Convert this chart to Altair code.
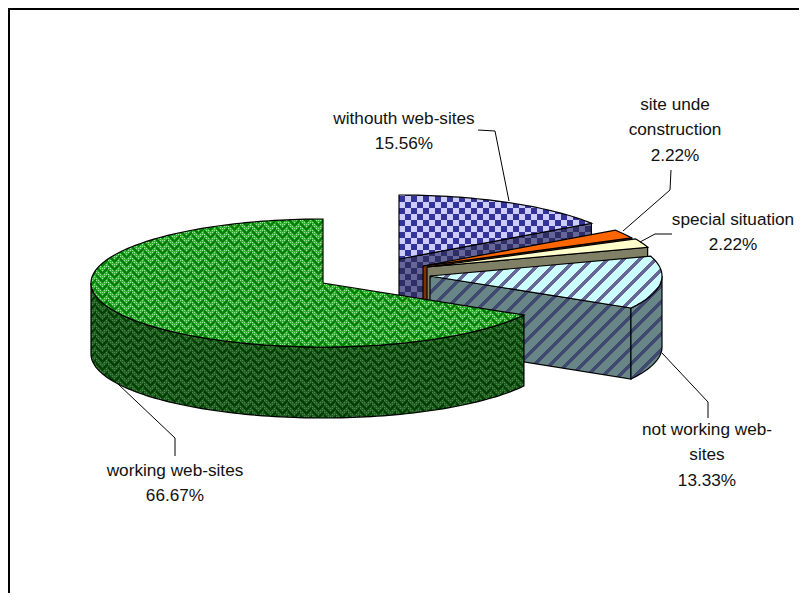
import math
import altair as alt
import pandas as pd

alt.data_transformers.disable_max_rows()

# ---- data ----
labels = ["withouth web-sites", "site unde construction", "special situation",
          "not working web-sites", "working web-sites"]
shares = [15.56, 2.22, 2.22, 13.33, 66.67]
text_lines = [["withouth web-sites", "15.56%"],
              ["site unde", "construction", "2.22%"],
              ["special situation", "2.22%"],
              ["not working web-", "sites", "13.33%"],
              ["working web-sites", "66.67%"]]

# ---- layout ----
W, H = 791, 585
RX, RY, DEPTH = 232, 64, 71
centers = [(399, 259), (423, 266), (427, 267), (430, 276), (323, 283)]
text_pos = [(404, 119), (675, 105), (733, 220), (707, 430), (175, 471)]
LINE = 25.3
leaders = [[(478, 130), (495, 131), (509, 201)],
           [(623, 231), (670, 190), (671, 170)],
           [(640, 242), (655, 234), (672, 234)],
           [(662, 353), (708, 402), (708, 418)],
           [(118, 384), (175, 438), (175, 456)]]

# ---- slice angles from the shares (clockwise from 12 o'clock) ----
tot = sum(shares)
bounds = [90.0]
for s in shares:
    bounds.append(bounds[-1] - s / tot * 360)


def pt(c, a, dy=0):
    r = math.radians(a)
    return (c[0] + RX * math.cos(r), c[1] - RY * math.sin(r) + dy)


def arc(c, a0, a1, dy=0):
    n = max(2, int(abs(a1 - a0) / 1.5))
    return [pt(c, a0 + (a1 - a0) * i / n, dy) for i in range(n + 1)]


def top(c, a0, a1):
    return [c] + arc(c, a0, a1)


def radial_wall(c, a):
    p = pt(c, a)
    return [c, p, (p[0], p[1] + DEPTH), (c[0], c[1] + DEPTH)]


def rim_wall(c, a0, a1):
    return arc(c, a0, a1) + arc(c, a1, a0, DEPTH)


# ---- fill patterns ----
def weave(x, y):
    tri = abs((x % 12) - 6)
    if (y + tri + 4 * ((x // 12) % 2)) % 8 < 3:
        return 1
    return 2 if (x % 2 == 0 and y % 2 == 0) else 0


def check(x, y):
    return int(((x - 399) // 6 + (y - 196) // 6) % 2 == 0)


def stripe(x, y):
    return int((x + y) % 16 < 5)


def solid(x, y):
    return 0


def raster(poly, fn, colors):
    ys = [p[1] for p in poly]
    rows = []
    for y in range(int(min(ys)), int(max(ys)) + 1):
        yc = y + 0.5
        xs = []
        for (x0, y0), (x1, y1) in zip(poly, poly[1:] + poly[:1]):
            if (y0 <= yc) != (y1 <= yc):
                xs.append(x0 + (yc - y0) / (y1 - y0) * (x1 - x0))
        xs.sort()
        for a, b in zip(xs[0::2], xs[1::2]):
            xa, xb = int(round(a)), int(round(b))
            if xb <= xa:
                continue
            rows.append((xa, xb, y, y + 1, colors[0]))
            run = None
            for x in range(xa, xb + 1):
                k = fn(x, y) if x < xb else 0
                if run and run[0] != k:
                    if run[0]:
                        rows.append((run[1], x, y, y + 1, colors[run[0]]))
                    run = None
                if run is None:
                    run = (k, x)
    return pd.DataFrame(rows, columns=["x", "x2", "y", "y2", "c"])


X = alt.Scale(domain=[8, 8 + W], range=[0, W], nice=False, zero=False)
Y = alt.Scale(domain=[8, 8 + H], range=[0, H], nice=False, zero=False)
XA = alt.X("x:Q", scale=X, axis=None)
YA = alt.Y("y:Q", scale=Y, axis=None)


def face(poly, fn, colors):
    rect = alt.Chart(raster(poly, fn, colors)).mark_rect(strokeWidth=0).encode(
        x=XA, x2="x2:Q", y=YA, y2="y2:Q", fill=alt.Fill("c:N", scale=None, legend=None))
    closed = poly + poly[:1]
    outline = pd.DataFrame({"x": [p[0] for p in closed], "y": [p[1] for p in closed],
                            "i": list(range(len(closed)))})
    line = alt.Chart(outline).mark_line(color="#000000", strokeWidth=1.2).encode(
        x=XA, y=YA, order="i:Q")
    return [rect, line]


c = centers
b = bounds
layers = []
# without web-sites
layers += face(radial_wall(c[0], b[1]), check, ["#666699", "#2E2E66"])
layers += face(top(c[0], b[0], b[1]), check, ["#CCCCFF", "#333399"])
# under construction
layers += face(radial_wall(c[1], b[2]), solid, ["#803300"])
layers += face(top(c[1], b[1], b[2]), solid, ["#FF6600"])
# special situation
layers += face(radial_wall(c[2], b[3]), solid, ["#808066"])
layers += face(top(c[2], b[2], b[3]), solid, ["#FFFFCC"])
# not working
layers += face(radial_wall(c[3], b[4]), stripe, ["#688686", "#404A70"])
layers += face(rim_wall(c[3], 0, b[4]), stripe, ["#688686", "#404A70"])
layers += face(top(c[3], b[3], b[4]), stripe, ["#CCFFFF", "#666699"])
# working
layers += face(rim_wall(c[4], b[4], -180), weave, ["#1F5F1F", "#004000", "#4F804F"])
layers += face(top(c[4], b[4], -270), weave, ["#2FB02F", "#008000", "#A0E0A0"])

# leaders
for i, pts in enumerate(leaders):
    d = pd.DataFrame({"x": [p[0] for p in pts], "y": [p[1] for p in pts], "i": range(len(pts))})
    layers.append(alt.Chart(d).mark_line(color="#000000", strokeWidth=1).encode(x=XA, y=YA, order="i:Q"))

# labels
rows = []
for lines, (tx, ty) in zip(text_lines, text_pos):
    for j, t in enumerate(lines):
        rows.append({"x": tx, "y": ty + j * LINE, "t": t})
layers.append(alt.Chart(pd.DataFrame(rows)).mark_text(
    font="Liberation Sans", fontSize=17.2, color="#111111", align="center", baseline="middle"
).encode(x=XA, y=YA, text="t:N"))

# frame
frame_df = pd.DataFrame({"a": [0]})
layers.append(alt.Chart(frame_df).mark_rule(color="#000000", strokeWidth=2).encode(
    x=alt.value(0), x2=alt.value(W), y=alt.value(1)))
layers.append(alt.Chart(frame_df).mark_rule(color="#000000", strokeWidth=2).encode(
    x=alt.value(1), y=alt.value(0), y2=alt.value(H)))

chart = alt.layer(*layers).properties(width=W, height=H, padding=0, autosize="none", background="#FFFFFF"
    ).configure_view(stroke=None)
chart.save("out.html", embed_options={"renderer": "svg", "actions": False})
